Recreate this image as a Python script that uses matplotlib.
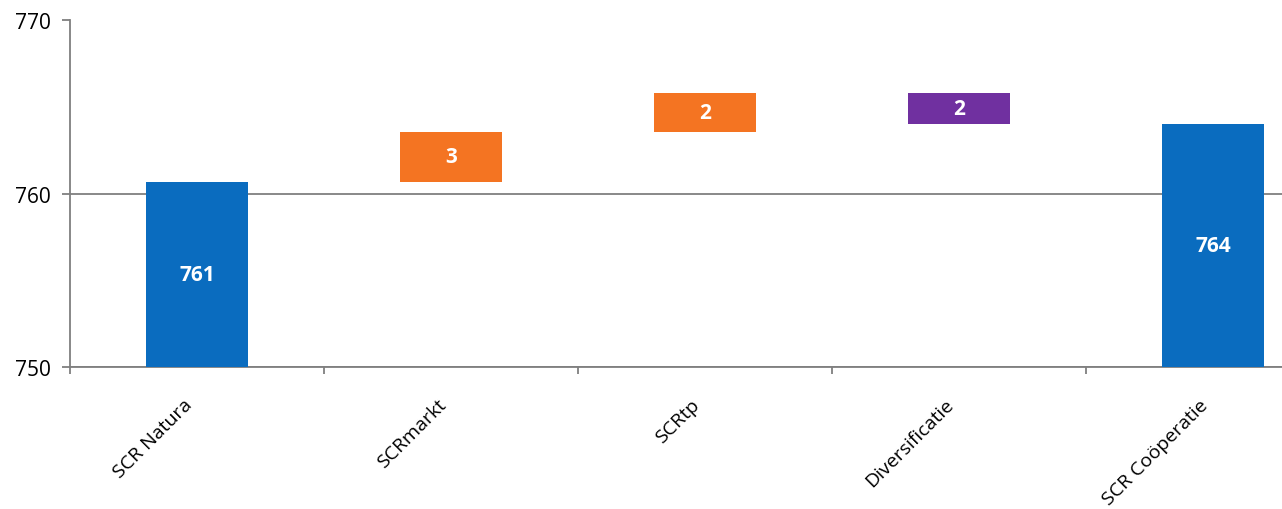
import matplotlib
matplotlib.use("Agg")
import matplotlib.pyplot as plt
import matplotlib.transforms as mtransforms
import numpy as np

categories = ["SCR Natura", "SCRmarkt", "SCRtp", "Diversificatie", "SCR Coöperatie"]
start_value = 760.7
deltas = [2.85, 2.25, -1.8]
end_value = 764.0
colors = ["#0A6CBF", "#F47422", "#F47422", "#7030A0", "#0A6CBF"]

plt.rcParams['font.family'] = ['Open Sans', 'DejaVu Sans']

fig = plt.figure(figsize=(12.82, 5.10), dpi=100)
ax = fig.add_axes([70/1282, 1-368/510, 1270/1282, (368-21.5)/510])

# build waterfall
bottoms = [750]
heights = [start_value - 750]
labels = [f"{start_value:.0f}"]
level = start_value
for d in deltas:
    if d >= 0:
        bottoms.append(level)
    else:
        bottoms.append(level + d)
    heights.append(abs(d))
    labels.append(f"{abs(d):.0f}")
    level += d
bottoms.append(750)
heights.append(end_value - 750)
labels.append(f"{end_value:.0f}")

x = np.arange(len(categories))
ax.bar(x, heights, bottom=bottoms, width=0.4, color=colors, zorder=3)
for xi, b, h, lab in zip(x, bottoms, heights, labels):
    ax.text(xi, b + h/2, lab, ha='center', va='center', color='white',
            fontsize=15, fontweight='bold', zorder=4)

ax.set_xlim(-0.5, len(categories) - 0.5)
ax.set_ylim(750, 770)
ax.set_yticks([750, 760, 770])
ax.set_yticklabels(["750", "760", "770"], fontsize=15)
ax.yaxis.grid(True, color='#7f7f7f', linewidth=1.3, zorder=0)
ax.set_axisbelow(True)

ax.set_xticks(x)
ax.set_xticklabels(categories, rotation=45, ha='right', va='center',
                   rotation_mode='anchor', fontsize=14)
ax.tick_params(axis='x', length=0, pad=25)
offset = mtransforms.ScaledTranslation(-8/100, 0, fig.dpi_scale_trans)
for lbl in ax.get_xticklabels():
    lbl.set_transform(lbl.get_transform() + offset)
ax.set_xticks(np.arange(len(categories) + 1) - 0.5, minor=True)
ax.tick_params(axis='x', which='minor', length=5, width=1.3, color='#7f7f7f')
ax.tick_params(axis='y', length=6, width=1.3, color='#7f7f7f', pad=8)

for s in ['top', 'right']:
    ax.spines[s].set_visible(False)
for s in ['left', 'bottom']:
    ax.spines[s].set_color('#7f7f7f')
    ax.spines[s].set_linewidth(1.3)

fig.savefig("out.png", dpi=100, facecolor='white')
